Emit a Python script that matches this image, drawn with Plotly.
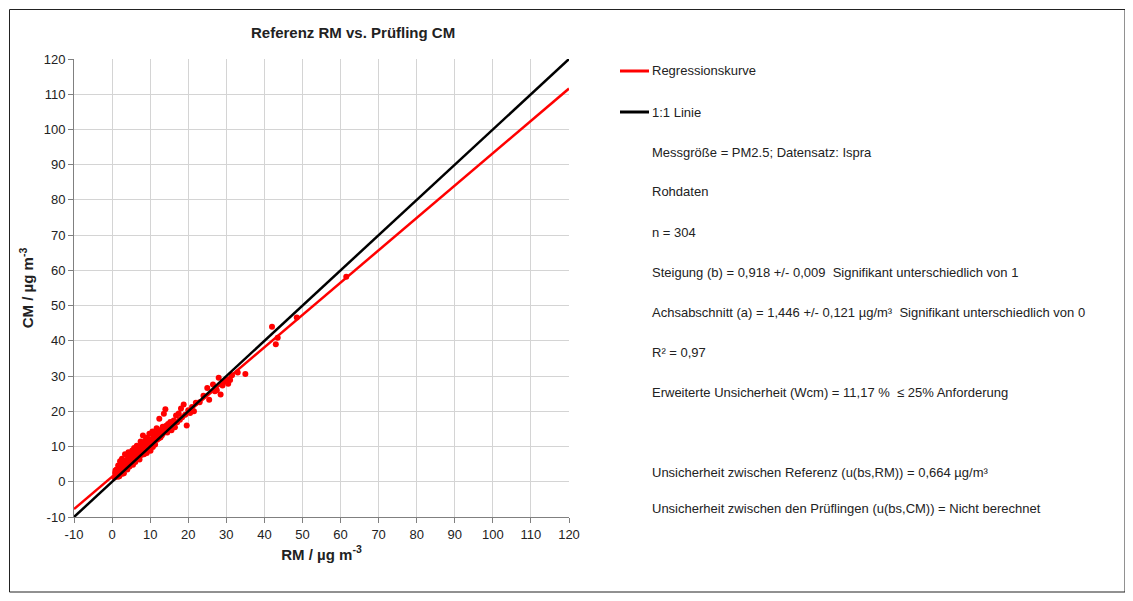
import plotly.graph_objects as go

# ---------------- data ----------------
rm = [
    0.6, 0.8, 1.0, 1.1, 1.3, 1.5, 1.6, 1.8, 2.0, 2.1,
    2.3, 2.5, 2.6, 2.8, 3.0, 3.1, 3.3, 3.4, 3.6, 3.8,
    3.9, 4.0, 4.2, 4.3, 4.5, 4.6, 4.8, 5.0, 5.1, 5.3,
    5.4, 5.5, 5.7, 5.8, 6.0, 6.1, 6.2, 6.4, 6.5, 6.7,
    6.8, 7.0, 7.1, 7.2, 7.4, 7.5, 7.7, 7.8, 8.0, 8.1,
    8.2, 8.4, 8.5, 8.7, 8.8, 9.0, 9.1, 9.2, 9.4, 9.5,
    9.7, 9.8, 10.0, 10.1, 10.3, 10.4, 10.6, 10.7, 10.9, 11.0,
    11.2, 11.3, 11.5, 11.7, 11.8, 12.0, 12.2, 12.4, 12.5, 12.7,
    12.9, 13.1, 13.3, 13.5, 13.6, 13.8, 14.0, 14.2, 14.5, 14.7,
    15.0, 15.3, 15.6, 15.9, 16.2, 16.5, 16.8, 17.1, 17.5, 17.8,
    18.1, 18.4, 18.8, 19.2, 19.6, 20.0, 20.5, 21.0, 21.5, 22.0,
    23.0, 24.0, 25.0, 25.5, 26.5, 27.0, 27.5, 28.0, 28.5, 29.0,
    29.5, 30.0, 30.5, 31.0, 31.5, 33.0, 35.0, 42.0, 43.0, 43.5, 48.5, 61.5,
    1.2, 1.9, 2.4, 2.9, 3.5, 4.1, 4.7, 5.2, 5.9, 6.3,
    6.9, 7.3, 7.9, 8.3, 8.9, 9.3, 9.9, 10.5, 11.1, 11.6,
    0.9, 1.7, 2.7, 3.7, 4.4, 5.6, 6.6, 7.6, 8.6, 9.6,
    1.4, 2.2, 3.2, 4.9, 5.7, 7.4, 8.1, 9.8, 10.8, 12.3,
    2.0, 2.6, 3.3, 4.0, 4.6, 5.3, 6.0, 6.7, 7.3, 8.0,
    8.7, 9.4, 10.2, 11.0, 11.9, 12.8, 13.7, 14.6, 15.5, 16.4,
    1.0, 1.5, 2.2, 3.0, 3.8, 4.5, 5.2, 5.9, 6.6, 7.5,
]
cm = [
    1.2, 2.5, 1.8, 3.4, 2.2, 3.0, 4.6, 2.7, 3.9, 5.8,
    3.1, 4.2, 6.5, 3.6, 4.9, 2.4, 5.5, 7.8, 4.4, 6.1,
    5.0, 3.5, 6.8, 8.4, 5.7, 4.3, 7.2, 5.9, 6.6, 8.9,
    6.2, 4.8, 7.5, 9.6, 6.9, 5.6, 8.1, 7.4, 10.2, 6.5,
    8.6, 7.9, 9.2, 6.3, 8.0, 11.4, 7.6, 9.7, 8.8, 13.1,
    9.4, 7.8, 10.6, 8.9, 11.8, 9.6, 8.2, 12.5, 10.1, 9.0,
    11.2, 13.6, 10.4, 8.8, 12.0, 11.0, 14.3, 9.9, 12.7, 11.5,
    13.4, 10.6, 12.1, 15.2, 11.9, 13.0, 12.3, 17.9, 14.1, 12.6,
    14.8, 13.2, 15.6, 13.9, 19.3, 14.5, 20.6, 15.9, 14.0, 16.4,
    15.2, 17.0, 14.6, 16.1, 17.4, 15.5, 18.8, 16.9, 19.4, 17.6,
    20.8, 18.3, 21.9, 19.0, 16.0, 20.3, 19.5, 21.2, 20.0, 22.4,
    22.6, 24.4, 26.6, 23.3, 27.6, 25.7, 26.0, 29.5, 24.8, 27.3,
    28.4, 29.0, 27.8, 28.9, 30.2, 31.0, 30.6, 44.0, 39.0, 40.9, 46.6, 58.2,
    2.0, 1.6, 2.9, 5.1, 3.9, 6.0, 5.0, 7.6, 7.0, 9.0,
    7.1, 9.5, 10.7, 11.0, 10.3, 11.6, 10.0, 13.8, 12.2, 13.6,
    3.2, 4.0, 2.3, 5.2, 4.6, 6.0, 7.8, 10.3, 9.9, 11.9,
    2.6, 3.3, 4.0, 6.2, 6.6, 8.3, 9.1, 10.5, 11.3, 13.3,
    4.3, 3.8, 5.9, 4.9, 7.0, 6.4, 7.3, 8.6, 8.1, 9.6,
    9.2, 10.9, 11.3, 10.6, 12.9, 13.0, 14.0, 14.9, 15.8, 16.7,
    1.9, 1.4, 3.6, 3.9, 4.2, 5.6, 5.8, 6.9, 7.4, 8.4,
]

slope = 0.918
intercept = 1.446
line_x = [-10, 120]
reg_y = [intercept + slope * v for v in line_x]
one_y = list(line_x)

axis_ticks = list(range(-10, 121, 10))
axis_ticktext = [str(v) for v in axis_ticks]

legend_items = [("Regressionskurve", "#ff0000"), ("1:1 Linie", "#000000")]
info_lines = [
    "Messgröße = PM2.5; Datensatz: Ispra",
    "Rohdaten",
    "n = 304",
    "Steigung (b) = 0,918 +/- 0,009  Signifikant unterschiedlich von 1",
    "Achsabschnitt (a) = 1,446 +/- 0,121 µg/m³  Signifikant unterschiedlich von 0",
    "R² = 0,97",
    "Erweiterte Unsicherheit (Wcm) = 11,17 %  ≤ 25% Anforderung",
    "",
    "",
    "Unsicherheit zwischen Referenz (u(bs,RM)) = 0,664 µg/m³",
    "Unsicherheit zwischen den Prüflingen (u(bs,CM)) = Nicht berechnet",
]

# ---------------- layout geometry (page pixels; page has 8px body margin) ----------------
OFF = 8
W, H = 1133 - OFF, 601 - OFF
PL, PR, PT, PB = 74 - OFF, 569 - OFF, 59 - OFF, 517 - OFF
FONT = "Liberation Sans, Arial, sans-serif"


def px_x(p):
    return (p - OFF - PL) / (PR - PL)


def px_y(p):
    return (PB - (p - OFF)) / (PB - PT)


fig = go.Figure()
fig.add_trace(go.Scatter(x=rm, y=cm, mode="markers",
                         marker=dict(color="#ff0000", size=6, line=dict(width=0)),
                         showlegend=False))
fig.add_trace(go.Scatter(x=line_x, y=reg_y, mode="lines",
                         line=dict(color="#ff0000", width=2.5), showlegend=False))
fig.add_trace(go.Scatter(x=line_x, y=one_y, mode="lines",
                         line=dict(color="#000000", width=2.5), showlegend=False))

shapes = [dict(type="rect", xref="paper", yref="paper",
               x0=px_x(9.5), x1=px_x(1125), y0=px_y(9.5), y1=px_y(592),
               line=dict(color="#222222", width=1), fillcolor="rgba(0,0,0,0)", layer="below")]
annotations = []

leg_y = [71, 112]
for (name, col), yy in zip(legend_items, leg_y):
    shapes.append(dict(type="line", xref="paper", yref="paper",
                       x0=px_x(620), x1=px_x(649), y0=px_y(yy), y1=px_y(yy),
                       line=dict(color=col, width=3)))
    annotations.append(dict(xref="paper", yref="paper", x=px_x(650), y=px_y(yy),
                            text=name, showarrow=False, xanchor="left", yanchor="middle",
                            font=dict(family=FONT, size=13, color="#222222")))

y0 = 152
step = 40
for i, t in enumerate(info_lines):
    if not t:
        continue
    yy = y0 + i * step
    if i >= 9:
        yy = 472 + (i - 9) * 36
    annotations.append(dict(xref="paper", yref="paper", x=px_x(650), y=px_y(yy),
                            text=t, showarrow=False, xanchor="left", yanchor="middle",
                            font=dict(family=FONT, size=13, color="#222222")))

annotations.append(dict(xref="paper", yref="paper", x=px_x(353), y=px_y(33),
                        text="<b>Referenz RM vs. Prüfling CM</b>", showarrow=False,
                        xanchor="center", yanchor="middle",
                        font=dict(family=FONT, size=15, color="#222222")))

axis_common = dict(range=[-10, 120], tickvals=axis_ticks, ticktext=axis_ticktext,
                   showgrid=True, gridcolor="#d4d4d4", gridwidth=1, zeroline=False,
                   showline=True, linecolor="#808080", linewidth=1,
                   ticks="outside", ticklen=5, tickcolor="#808080",
                   tickfont=dict(family=FONT, size=13, color="#222222"))

fig.update_layout(
    width=W, height=H,
    margin=dict(l=PL, r=W - PR, t=PT, b=H - PB),
    paper_bgcolor="white", plot_bgcolor="white",
    xaxis=dict(**axis_common,
               title=dict(text="<b>RM / µg m<sup>-3</sup></b>", standoff=8,
                          font=dict(family=FONT, size=15, color="#222222"))),
    yaxis=dict(**axis_common,
               title=dict(text="<b>CM / µg m<sup>-3</sup></b>", standoff=6,
                          font=dict(family=FONT, size=15, color="#222222"))),
    shapes=shapes,
    annotations=annotations,
)

fig.write_html("out.html")
